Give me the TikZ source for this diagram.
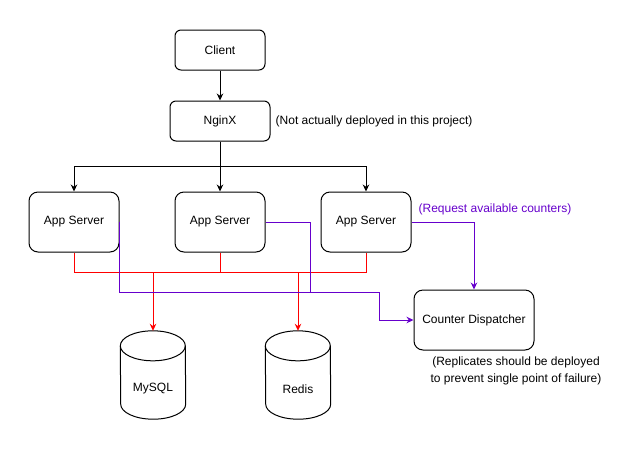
\documentclass[tikz,border=0pt]{standalone}
\usepackage{fontspec}
\setmainfont{Liberation Sans}
\usetikzlibrary{positioning}
\usetikzlibrary{arrows.meta}

\definecolor{reqpurple}{HTML}{6600CC}

\tikzset{
    box/.style={draw, rounded corners=6pt, line width=1pt, minimum height=40pt, font=\fontsize{12}{14}\selectfont},
    appbox/.style={box, rounded corners=9pt, minimum width=90pt, minimum height=60pt},
    db/.style={inner sep=0pt, minimum width=65pt, minimum height=88pt},
    note/.style={inner sep=0pt, font=\fontsize{12}{17}\selectfont},
    arr/.style={-{Stealth[length=7pt,width=6.5pt]}},
    wire/.style={line width=1pt},
}

% cylinder outline around a db node
\newcommand{\dbshape}[1]{%
    \draw[wire] ([yshift=-15pt]#1.north west) arc[start angle=180, end angle=0, x radius=32.5pt, y radius=15pt]
        -- ([yshift=15pt]#1.south east) arc[start angle=0, end angle=-180, x radius=32.5pt, y radius=15pt] -- cycle;
    \draw[wire] ([yshift=-15pt]#1.north west) arc[start angle=180, end angle=360, x radius=32.5pt, y radius=15pt];
}

\begin{document}
\begin{tikzpicture}[x=1pt, y=-1pt]
        \useasboundingbox (0,0) rectangle (638,451);

        % Entry
        \node[box, minimum width=90pt] (client) at (220,50) {Client};
        \node[box, minimum width=100pt, below = 30pt of client] (nginx) {NginX};
        \node[note, right = 5pt of nginx] (nginxnote) {(Not actually deployed in this project)};

        % App servers
        \node[appbox, below = 50pt of nginx] (app2) {App Server};
        \node[appbox, left = 55pt of app2] (app1) {App Server};
        \node[appbox, right = 55pt of app2] (app3) {App Server};

        % Storage and dispatcher
        \node[db, label={[yshift=-14pt, font=\fontsize{12}{14}\selectfont]center:MySQL}] (mysql) at (153,375) {};
        \node[db, label={[yshift=-14pt, font=\fontsize{12}{14}\selectfont]center:Redis}] (redis) at (298,375) {};
        \dbshape{mysql}
        \dbshape{redis}
        \node[box, rounded corners=9pt, minimum width=120pt, minimum height=60pt] (disp) at (474,320) {Counter Dispatcher};
        \node[note, align=center] (dispnote) at (516,371) {(Replicates should be deployed\\to prevent single point of failure)};

        % Client -> NginX -> App servers
        \draw[wire, arr] (client) -- (nginx);
        \draw[wire, arr] (nginx.south) -- ++(0,25) -| (app1.north);
        \draw[wire, arr] (nginx.south) -- ++(0,25) -| (app3.north);
        \draw[wire, arr] (nginx) -- (app2);

        % App servers -> MySQL, Redis
        \draw[wire, red] (app1.south) -- ++(0,20) coordinate (rbus) -| (app3.south);
        \draw[wire, red] (app2.south) -- ++(0,20);
        \draw[wire, red, arr] (rbus -| mysql.north) -- (mysql.north);
        \draw[wire, red, arr] (rbus -| redis.north) -- (redis.north);

        % App servers -> Counter Dispatcher
        \draw[wire, reqpurple, arr] (app1.east) -- ++(0,70) -- ++(260,0) |- (disp.west);
        \draw[wire, reqpurple] (app2.east) -- ++(45,0) -- ++(0,70);
        \draw[wire, reqpurple, arr] (app3.east) -| (disp.north);
        \node[note, text=reqpurple] (reqnote) at (495,209) {(Request available counters)};
    \end{tikzpicture}
\end{document}
